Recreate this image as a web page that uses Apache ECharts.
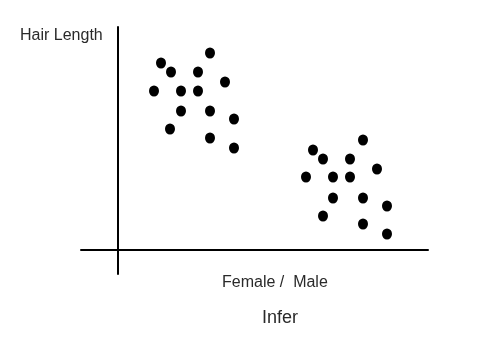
<!DOCTYPE html>
<html><head><meta charset="utf-8">
<script src="https://cdn.jsdelivr.net/npm/echarts@6/dist/echarts.min.js"></script>
<style>html,body{margin:0;padding:0;background:#fff}#c{width:485px;height:358px}</style>
</head><body><div id="c"></div>
<script>
const femaleX = [92,43,53,80,107,36,63,80,63,92,116,52,92,116];
const femaleY = [197,187,178,178,168,159,159,159,139,139,131,121,112,102];
const maleX = [245,195,205,232,259,188,215,232,215,245,269,205,245,269];
const maleY = [110,100,91,91,81,73,73,73,52,52,44,34,26,16];
const yLabel = 'Hair Length';
const xLabel = 'Female /  Male';
const titleText = 'Infer';

const pts = [];
femaleX.forEach((x,i)=>pts.push([x,femaleY[i]]));
maleX.forEach((x,i)=>pts.push([x,maleY[i]]));

const chart = echarts.init(document.getElementById('c'));
const font = '"Liberation Sans", Arial, sans-serif';
chart.setOption({
  animation:false,
  grid:{left:81,right:57,top:27,bottom:84},
  xAxis:{type:'value',min:-37,max:310,axisLine:{onZero:true,lineStyle:{color:'#000',width:2}},
    axisTick:{show:false},axisLabel:{show:false},splitLine:{show:false}},
  yAxis:{type:'value',min:-24,max:223,axisLine:{show:true,onZero:true,lineStyle:{color:'#000',width:2}},
    axisTick:{show:false},axisLabel:{show:false},splitLine:{show:false}},
  series:[{type:'scatter',data:pts,symbol:'circle',symbolSize:[10,11],itemStyle:{color:'#000',opacity:1}}],
  graphic:[
    {type:'text',left:20,top:28,style:{text:yLabel,font:'16px '+font,fill:'#2a2a2a'}},
    {type:'text',left:222,top:275,style:{text:xLabel,font:'16px '+font,fill:'#2a2a2a'}},
    {type:'text',left:262,top:309,style:{text:titleText,font:'18px '+font,fill:'#2a2a2a'}}
  ]
});
</script></body></html>
